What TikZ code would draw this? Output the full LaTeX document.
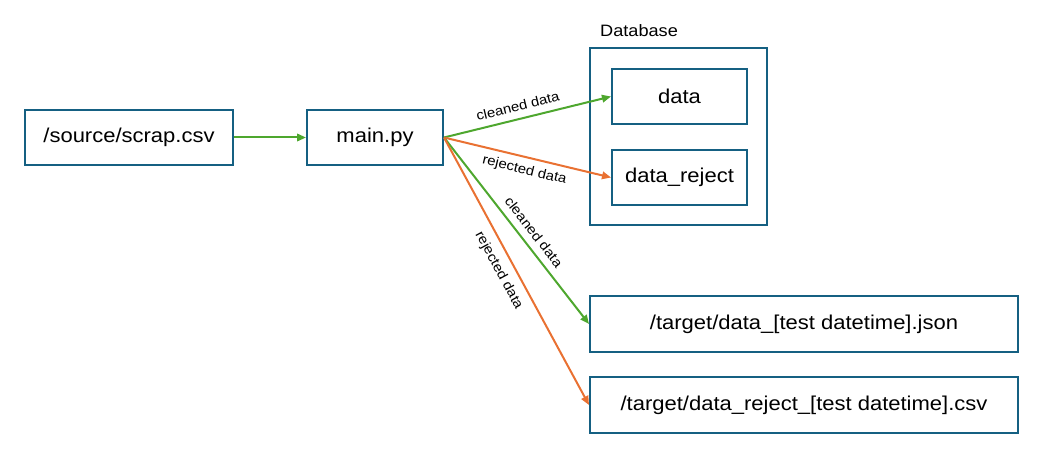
\documentclass[tikz,border=0pt]{standalone}
\usepackage{fontspec}
\setmainfont[FakeStretch=1.1]{Liberation Sans}
\usetikzlibrary{arrows.meta}
\definecolor{boxblue}{HTML}{156082}
\definecolor{lgreen}{HTML}{4EA72E}
\definecolor{lorange}{HTML}{E97132}
\begin{document}
\begin{tikzpicture}[x=1pt,y=-1pt,
  box/.style={draw=boxblue,line width=2pt,rectangle,inner sep=0pt,font=\fontsize{20}{22}\selectfont},
  lbl/.style={font=\fontsize{13.5}{15}\selectfont,sloped,inner sep=2pt},
  garrow/.style={draw=lgreen,line width=2pt,-{Triangle[length=9pt,width=7.5pt]}},
  oarrow/.style={draw=lorange,line width=2pt,-{Triangle[length=9pt,width=7.5pt]}}]
\useasboundingbox (0,0) rectangle (1043,454);
\node[box,minimum width=208pt,minimum height=55pt] (src) at (129,137.5) {/source/scrap.csv};
\node[box,minimum width=136pt,minimum height=55pt] (main) at (375,137.5) {main.py};
\node[box,minimum width=177pt,minimum height=177pt] (db) at (678.5,136.5) {};
\node[font=\fontsize{16.5}{18}\selectfont,anchor=base west,inner sep=0pt] (dblabel) at (600,37) {Database};
\node[box,minimum width=135pt,minimum height=55pt] (data) at (679.5,96.5) {data};
\node[box,minimum width=135pt,minimum height=55pt] (rej) at (679.5,177.5) {data\_reject};
\node[box,minimum width=428pt,minimum height=56pt] (json) at (804,324) {/target/data\_[test datetime].json};
\node[box,minimum width=428pt,minimum height=56pt] (csv) at (804,405) {/target/data\_reject\_[test datetime].csv};
\draw[garrow] (src.east) -- (main.west);
\draw[garrow] (main.east) -- node[lbl,above=5pt,pos=0.46] {cleaned data} (data.west);
\draw[oarrow] (main.east) -- node[lbl,below=4pt,pos=0.5] {rejected data} (rej.west);
\draw[garrow] (main.east) -- node[lbl,above=5pt,pos=0.55] {cleaned data} (json.west);
\draw[oarrow] (main.east) -- node[lbl,below=6pt,pos=0.47] {rejected data} (csv.west);
\end{tikzpicture}
\end{document}
